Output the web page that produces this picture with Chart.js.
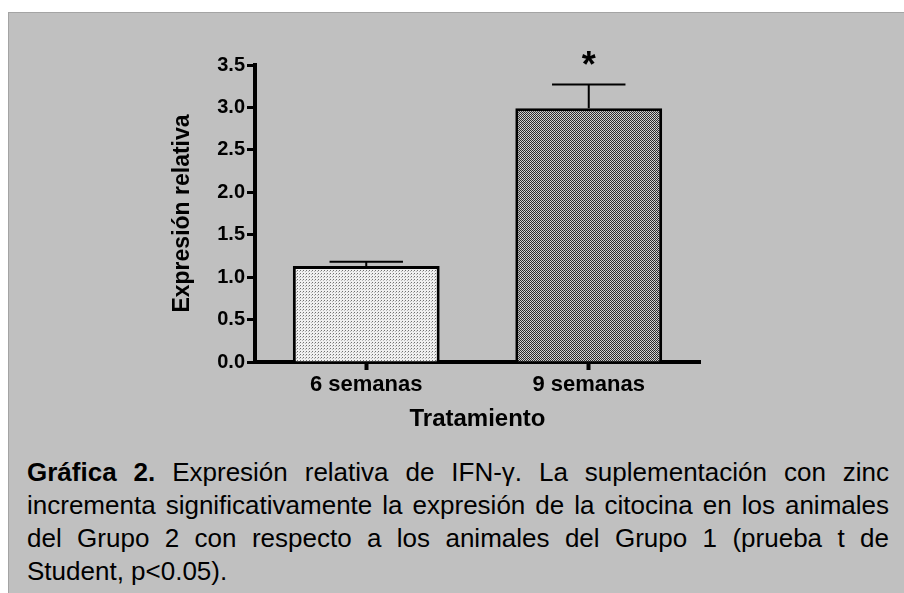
<!DOCTYPE html>
<html lang="es">
<head>
<meta charset="utf-8">
<script src="https://cdn.jsdelivr.net/npm/chart.js@4/dist/chart.umd.min.js"></script>
<style>
  html, body { margin: 0; padding: 0; background: #fff; }
  body { width: 904px; height: 593px; position: relative; overflow: hidden; }
  #panel {
    position: absolute; left: 8px; top: 12px; right: 0; bottom: 0;
    background: #c0c0c0;
    border-left: 1px solid #a4a4a4; border-top: 1px solid #a4a4a4;
  }
  #chart { position: absolute; left: 0; top: 0; }
  #caption {
    position: absolute; left: 27px; top: 456px; width: 862px;
    font-family: "Liberation Sans", Arial, sans-serif;
    font-size: 26px; line-height: 33px; color: #000;
  }
  #caption div { text-align: justify; text-align-last: justify; white-space: nowrap; }
  #caption div.last { text-align-last: left; }
</style>
</head>
<body>
<div id="panel"></div>
<canvas id="chart" width="904" height="440"></canvas>
<div id="caption">
  <div><b>Gráfica 2.</b> Expresión relativa de IFN-γ. La suplementación con zinc</div>
  <div>incrementa significativamente la expresión de la citocina en los animales</div>
  <div>del Grupo 2 con respecto a los animales del Grupo 1 (prueba t de</div>
  <div class="last">Student, p&lt;0.05).</div>
</div>
<script>
// data
const categories = ["6 semanas", "9 semanas"];
const means = [1.13, 2.99];
const errors = [0.05, 0.28];
const marks = ["", "*"];
const yTicks = [0, 0.5, 1.0, 1.5, 2.0, 2.5, 3.0, 3.5];

function makePattern(size, bg, dots) {
    const c = document.createElement("canvas");
    c.width = size; c.height = size;
    const g = c.getContext("2d");
    g.fillStyle = bg;
    g.fillRect(0, 0, size, size);
    dots.forEach(function (d) {
        g.fillStyle = d[2];
        g.fillRect(d[0], d[1], 1, 1);
    });
    return g.createPattern(c, "repeat");
}

const lightFill = makePattern(3, "#f0f0f0", [[0, 0, "#707070"], [2, 1, "#b4b4b4"]]);
const darkFill = makePattern(2, "#dcdcdc", [[0, 0, "#2c2c2c"], [1, 1, "#2c2c2c"], [1, 0, "#c4c4c4"]]);

const errorBars = {
    id: "errorBars",
    afterDatasetsDraw(chart) {
        const ctx = chart.ctx;
        const y = chart.scales.y;
        const meta = chart.getDatasetMeta(0);
        ctx.save();
        ctx.strokeStyle = "#000";
        ctx.fillStyle = "#000";
        ctx.lineWidth = 2;
        meta.data.forEach(function (bar, i) {
            const top = y.getPixelForValue(means[i] + errors[i]);
            const half = bar.width / 4;
            ctx.beginPath();
            ctx.moveTo(bar.x, bar.y);
            ctx.lineTo(bar.x, top);
            ctx.moveTo(bar.x - half, top);
            ctx.lineTo(bar.x + half, top);
            ctx.stroke();
            if (marks[i]) {
                ctx.font = 'bold 36px "Liberation Sans"';
                ctx.textAlign = "center";
                ctx.textBaseline = "alphabetic";
                ctx.fillText(marks[i], bar.x, top - 8);
            }
        });
        ctx.restore();
    }
};

new Chart(document.getElementById("chart"), {
    type: "bar",
    data: {
        labels: categories,
        datasets: [{
            data: means,
            backgroundColor: [lightFill, darkFill],
            borderColor: "#000",
            borderWidth: 3,
            borderSkipped: "bottom",
            barPercentage: 0.66,
            categoryPercentage: 1.0
        }]
    },
    options: {
        responsive: false,
        animation: false,
        layout: { padding: { left: 169, right: 204, top: 65, bottom: 6 } },
        plugins: {
            legend: { display: false },
            tooltip: { enabled: false }
        },
        scales: {
            x: {
                offset: true,
                grid: {
                    offset: false, drawOnChartArea: false, drawTicks: true,
                    tickLength: 8, tickWidth: 4, tickColor: "#000", color: "#000"
                },
                border: { display: true, color: "#000", width: 4 },
                ticks: {
                    color: "#000", padding: 2, maxRotation: 0,
                    font: { family: "Liberation Sans", size: 22, weight: "bold" }
                },
                title: {
                    display: true, text: "Tratamiento", color: "#000",
                    padding: 0,
                    font: { family: "Liberation Sans", size: 24, weight: "bold" }
                },
                afterFit(scale) { scale.height = 72; }
            },
            y: {
                min: 0, max: 3.5,
                afterBuildTicks(scale) {
                    scale.ticks = yTicks.map(function (v) { return { value: v }; });
                },
                grid: {
                    drawOnChartArea: false, drawTicks: true,
                    tickLength: 8, tickWidth: 3, tickColor: "#000", color: "#000"
                },
                border: { display: true, color: "#000", width: 4 },
                ticks: {
                    color: "#000", padding: 2,
                    font: { family: "Liberation Sans", size: 20, weight: "bold" },
                    callback: function (v) { return Number(v).toFixed(1); }
                },
                title: {
                    display: true, text: "Expresión relativa", color: "#000",
                    padding: 0,
                    font: { family: "Liberation Sans", size: 23, weight: "bold" }
                },
                afterFit(scale) { scale.width = 86; }
            }
        }
    },
    plugins: [errorBars]
});
</script>
</body>
</html>
